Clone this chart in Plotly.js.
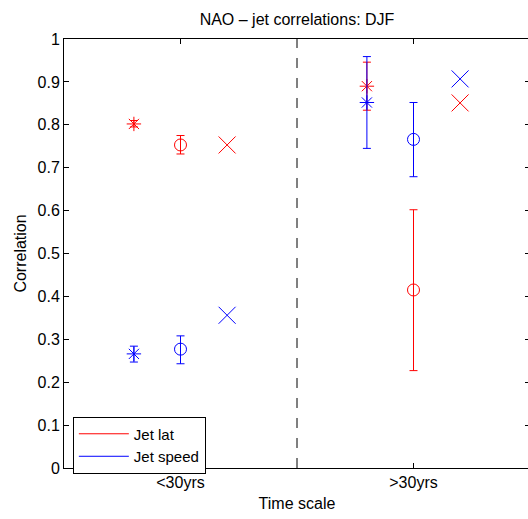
<!DOCTYPE html>
<html>
<head>
<meta charset="utf-8">
<script src="https://cdn.plot.ly/plotly-3.0.1.min.js"></script>
<style>
html,body{margin:0;padding:0;overflow:hidden;background:#fff;}
#chart{width:540px;height:519px;}
</style>
</head>
<body>
<div id="chart"></div>
<script>
// Categories (x tick labels)
const categories = ['<30yrs', '>30yrs'];
const categoryPos = [1, 2];
const dividerPos = 1.5;

// Jet latitude (red)
const latStar = [0.802, 0.890];
const latStarLo = [0.795, 0.834];
const latStarHi = [0.810, 0.946];
const latCircle = [0.753, 0.415];
const latCircleLo = [0.732, 0.227];
const latCircleHi = [0.775, 0.602];
const latCross = [0.753, 0.851];

// Jet speed (blue)
const speedStar = [0.266, 0.852];
const speedStarLo = [0.247, 0.745];
const speedStarHi = [0.284, 0.959];
const speedCircle = [0.277, 0.766];
const speedCircleLo = [0.243, 0.679];
const speedCircleHi = [0.308, 0.852];
const speedCross = [0.356, 0.907];

const RED = '#ff0000', BLUE = '#0000ff';
const FONT = 'Liberation Sans, Arial, Helvetica, sans-serif';

function shift(off){ return categoryPos.map(p => p + off); }
function errTrace(off, y, lo, hi, color, symbol, size){
  return {
    x: shift(off), y: y, mode: 'markers', type: 'scatter', showlegend: false,
    marker: {symbol: symbol, size: size, color: color, line: {color: color, width: 1}},
    error_y: {type: 'data', symmetric: false,
      array: y.map((v,i) => hi[i] - v), arrayminus: y.map((v,i) => v - lo[i]),
      color: color, thickness: 1, width: 4},
    hoverinfo: 'skip'
  };
}
function crossTrace(off, y, color){
  return {
    x: shift(off), y: y, mode: 'markers', type: 'scatter', showlegend: false,
    marker: {symbol: 'x-thin-open', size: 17, color: color, line: {color: color, width: 1}},
    hoverinfo: 'skip'
  };
}

const traces = [
  {x: [dividerPos, dividerPos], y: [0, 1], mode: 'lines', type: 'scatter', showlegend: false,
   line: {color: '#000', width: 1, dash: '10px,10px'}, hoverinfo: 'skip'},
  errTrace(-0.2, latStar, latStarLo, latStarHi, RED, 'asterisk-open', 12),
  errTrace(0, latCircle, latCircleLo, latCircleHi, RED, 'circle-open', 12),
  crossTrace(0.2, latCross, RED),
  errTrace(-0.2, speedStar, speedStarLo, speedStarHi, BLUE, 'asterisk-open', 12),
  errTrace(0, speedCircle, speedCircleLo, speedCircleHi, BLUE, 'circle-open', 12),
  crossTrace(0.2, speedCross, BLUE),
  {x: [null], y: [null], mode: 'lines', type: 'scatter', name: 'Jet lat', line: {color: RED, width: 1}},
  {x: [null], y: [null], mode: 'lines', type: 'scatter', name: 'Jet speed', line: {color: BLUE, width: 1}}
];

const layout = {
  width: 540, height: 519,
  margin: {l: 64, r: 10, t: 39, b: 51},
  paper_bgcolor: '#fff', plot_bgcolor: '#fff',
  font: {family: FONT, size: 16, color: '#000'},
  title: {text: 'NAO \u2013 jet correlations: DJF', x: 0.5, xref: 'paper', y: 0.963, yanchor: 'middle', font: {size: 16}},
  xaxis: {
    range: [0.5, 2.5], tickvals: categoryPos, ticktext: categories,
    showline: true, mirror: 'ticks', linecolor: '#000', linewidth: 1,
    ticks: 'inside', ticklen: 5, tickcolor: '#000',
    showgrid: false, zeroline: false, fixedrange: true,
    title: {text: 'Time scale', standoff: 7, font: {size: 16}}
  },
  yaxis: {
    range: [0, 1], tick0: 0, dtick: 0.1,
    showline: true, mirror: 'ticks', linecolor: '#000', linewidth: 1,
    ticks: 'inside', ticklen: 5, tickcolor: '#000',
    showgrid: false, zeroline: false, fixedrange: true,
    title: {text: 'Correlation', standoff: 6, font: {size: 16}}
  },
  legend: {
    x: 0.019, y: 0.12, xanchor: 'left', yanchor: 'top',
    bgcolor: '#fff', bordercolor: '#000', borderwidth: 1,
    font: {size: 15}, tracegroupgap: 0, itemwidth: 50
  },
  showlegend: true
};

Plotly.newPlot('chart', traces, layout, {staticPlot: true, displayModeBar: false});
</script>
</body>
</html>
